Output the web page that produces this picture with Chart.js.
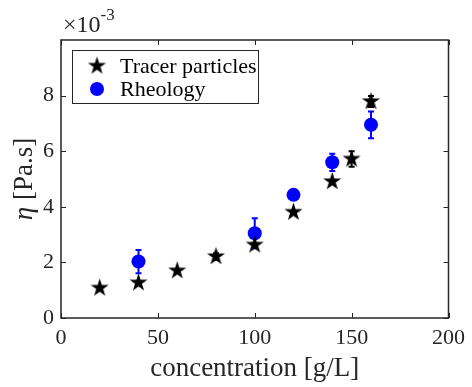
<!DOCTYPE html>
<html>
<head>
<meta charset="utf-8">
<script src="https://cdn.jsdelivr.net/npm/chart.js@4"></script>
<style>
  html, body { margin: 0; padding: 0; background: #fff; }
</style>
</head>
<body>
<canvas id="etaChart" width="472" height="387"></canvas>
<script>
// concentration in g/L, viscosity in units of 1e-3 Pa.s
const concTracer = [20, 40, 60, 80, 100, 120, 140, 150, 160];
const etaTracer = [1.08, 1.27, 1.70, 2.21, 2.63, 3.81, 4.91, 5.72, 7.79];
const errTracer = [0, 0, 0, 0.12, 0, 0, 0, 0.28, 0.2];

const concRheo = [40, 100, 120, 140, 160];
const etaRheo = [2.03, 3.05, 4.43, 5.60, 6.95];
const errRheo = [0.42, 0.54, 0.08, 0.31, 0.48];

const xTicks = [0, 50, 100, 150, 200];
const yTicks = [0, 2, 4, 6, 8];

const serif = '"Liberation Serif", "Times New Roman", serif';
const ink = '#262626';
const blue = '#0000ff';

// filled pentagram marker (Chart.js 'star' is only an outline)
const makeStar = (r, color) => {
    const c = document.createElement('canvas');
    const s = Math.ceil(r * 2 + 2);
    c.width = s;
    c.height = s;
    const ctx = c.getContext('2d');
    ctx.translate(s / 2, s / 2);
    ctx.beginPath();
    for (let i = 0; i < 10; i++) {
        const rad = i % 2 === 0 ? r : r * 0.382;
        const a = -Math.PI / 2 + i * Math.PI / 5;
        ctx.lineTo(rad * Math.cos(a), rad * Math.sin(a));
    }
    ctx.closePath();
    ctx.fillStyle = color;
    ctx.fill();
    return c;
};
const starImg = makeStar(9.5, '#000');

const drawErr = (ctx, xs, ys, es, color, sx, sy) => {
    ctx.strokeStyle = color;
    ctx.lineWidth = 2;
    xs.forEach((x, i) => {
        if (!es[i]) return;
        const px = sx.getPixelForValue(x);
        const top = sy.getPixelForValue(ys[i] + es[i]);
        const bot = sy.getPixelForValue(ys[i] - es[i]);
        ctx.beginPath();
        ctx.moveTo(px, top); ctx.lineTo(px, bot);
        ctx.moveTo(px - 3, top); ctx.lineTo(px + 3, top);
        ctx.moveTo(px - 3, bot); ctx.lineTo(px + 3, bot);
        ctx.stroke();
    });
};

const frame = {
    id: 'frame',
    beforeDatasetsDraw(chart) {
        const {ctx, scales: {x, y}} = chart;
        ctx.save();
        drawErr(ctx, concRheo, etaRheo, errRheo, blue, x, y);
        drawErr(ctx, concTracer, etaTracer, errTracer, '#000', x, y);
        ctx.restore();
    },
    afterDatasetsDraw(chart) {
        const {ctx, chartArea: a, scales: {x, y}} = chart;
        ctx.save();
        // axes box with inward ticks
        ctx.strokeStyle = ink;
        ctx.lineWidth = 1.5;
        ctx.strokeRect(a.left, a.top, a.right - a.left, a.bottom - a.top);
        ctx.lineWidth = 1;
        ctx.beginPath();
        xTicks.forEach(v => {
            const px = Math.round(x.getPixelForValue(v)) + 0.5;
            ctx.moveTo(px, a.bottom); ctx.lineTo(px, a.bottom - 5);
            ctx.moveTo(px, a.top); ctx.lineTo(px, a.top + 5);
        });
        yTicks.forEach(v => {
            const py = Math.round(y.getPixelForValue(v)) + 0.5;
            ctx.moveTo(a.left, py); ctx.lineTo(a.left + 5, py);
            ctx.moveTo(a.right, py); ctx.lineTo(a.right - 5, py);
        });
        ctx.stroke();

        // exponent label
        ctx.fillStyle = ink;
        ctx.textBaseline = 'alphabetic';
        ctx.textAlign = 'left';
        ctx.font = '24px ' + serif;
        ctx.fillText('\u00d710', a.left + 2, 32);
        const w = ctx.measureText('\u00d710').width;
        ctx.font = '17px ' + serif;
        ctx.fillText('-3', a.left + 2 + w, 20);

        // y axis title, italic eta
        ctx.save();
        ctx.translate(25, (a.top + a.bottom) / 2);
        ctx.rotate(-Math.PI / 2);
        ctx.textBaseline = 'middle';
        ctx.font = 'italic 27px ' + serif;
        const wEta = ctx.measureText('\u03b7').width;
        ctx.font = '27px ' + serif;
        const wRest = ctx.measureText(' [Pa.s]').width;
        const x0 = -(wEta + wRest) / 2;
        ctx.font = 'italic 27px ' + serif;
        ctx.fillText('\u03b7', x0, 0);
        ctx.font = '27px ' + serif;
        ctx.fillText(' [Pa.s]', x0 + wEta, 0);
        ctx.restore();

        // legend
        const ds = chart.data.datasets;
        ctx.fillStyle = '#fff';
        ctx.fillRect(72, 50, 186, 53);
        ctx.strokeStyle = ink;
        ctx.lineWidth = 1;
        ctx.strokeRect(72.5, 50.5, 186, 53);
        ctx.drawImage(starImg, 97 - starImg.width / 2, 66 - starImg.height / 2);
        ctx.beginPath();
        ctx.arc(97, 89, 7, 0, Math.PI * 2);
        ctx.fillStyle = blue;
        ctx.fill();
        ctx.fillStyle = '#000';
        ctx.font = '22px ' + serif;
        ctx.textBaseline = 'middle';
        ctx.fillText(ds[0].label, 120, 67);
        ctx.fillText(ds[1].label, 120, 90);
        ctx.restore();
    }
};

new Chart(document.getElementById('etaChart'), {
    type: 'scatter',
    data: {
        datasets: [
            {
                label: 'Tracer particles',
                data: concTracer.map((c, i) => ({x: c, y: etaTracer[i]})),
                pointStyle: starImg,
                pointRadius: 9,
                backgroundColor: '#000',
                borderColor: '#000'
            },
            {
                label: 'Rheology',
                data: concRheo.map((c, i) => ({x: c, y: etaRheo[i]})),
                pointStyle: 'circle',
                pointRadius: 7,
                backgroundColor: blue,
                borderColor: blue,
                borderWidth: 0
            }
        ]
    },
    options: {
        responsive: false,
        animation: false,
        layout: {padding: {top: 40, right: 20, left: 0, bottom: 0}},
        plugins: {
            legend: {display: false},
            tooltip: {enabled: false}
        },
        scales: {
            x: {
                type: 'linear',
                min: 0,
                max: 200,
                afterBuildTicks: s => { s.ticks = xTicks.map(v => ({value: v})); },
                afterFit: s => { s.height = 69; },
                grid: {display: false, drawTicks: false},
                border: {display: false},
                ticks: {color: ink, font: {family: serif, size: 22}, padding: 7, maxRotation: 0},
                title: {
                    display: true,
                    text: 'concentration [g/L]',
                    color: ink,
                    font: {family: serif, size: 27},
                    padding: {top: 0, bottom: 2}
                }
            },
            y: {
                type: 'linear',
                min: 0,
                max: 10,
                afterBuildTicks: s => { s.ticks = yTicks.map(v => ({value: v})); },
                afterFit: s => { s.width = 61; },
                grid: {display: false, drawTicks: false},
                border: {display: false},
                ticks: {color: ink, font: {family: serif, size: 22}, padding: 7},
                title: {display: false}
            }
        }
    },
    plugins: [frame]
});
</script>
</body>
</html>
